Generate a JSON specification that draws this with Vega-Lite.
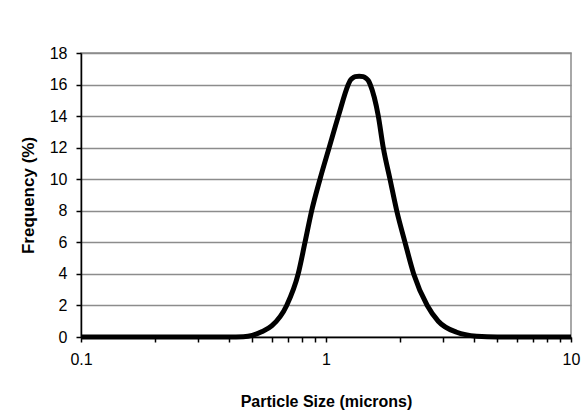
{
  "$schema": "https://vega.github.io/schema/vega-lite/v6.json",
  "width": 490,
  "height": 284,
  "autosize": {"type": "none"},
  "padding": {"left": 81, "top": 53, "right": 17, "bottom": 77},
  "background": "white",
  "config": {
    "font": "Liberation Sans",
    "view": {"stroke": "#8c8c8c", "strokeWidth": 1.5}
  },
  "data": {
    "values": [
      {"size": 0.1, "freq": 0},
      {"size": 0.2, "freq": 0},
      {"size": 0.3, "freq": 0},
      {"size": 0.4, "freq": 0},
      {"size": 0.46, "freq": 0.02},
      {"size": 0.5, "freq": 0.1},
      {"size": 0.546, "freq": 0.33},
      {"size": 0.6, "freq": 0.7},
      {"size": 0.691, "freq": 2},
      {"size": 0.77, "freq": 4},
      {"size": 0.821, "freq": 6},
      {"size": 0.874, "freq": 8},
      {"size": 0.945, "freq": 10},
      {"size": 1.03, "freq": 12},
      {"size": 1.123, "freq": 14},
      {"size": 1.233, "freq": 16},
      {"size": 1.255, "freq": 16.26},
      {"size": 1.279, "freq": 16.39},
      {"size": 1.316, "freq": 16.5},
      {"size": 1.366, "freq": 16.53},
      {"size": 1.418, "freq": 16.5},
      {"size": 1.459, "freq": 16.39},
      {"size": 1.487, "freq": 16.26},
      {"size": 1.515, "freq": 16},
      {"size": 1.635, "freq": 14},
      {"size": 1.713, "freq": 12},
      {"size": 1.825, "freq": 10},
      {"size": 1.944, "freq": 8},
      {"size": 2.101, "freq": 6},
      {"size": 2.28, "freq": 4},
      {"size": 2.59, "freq": 2},
      {"size": 2.873, "freq": 1},
      {"size": 3.415, "freq": 0.3},
      {"size": 4.12, "freq": 0.05},
      {"size": 5, "freq": 0},
      {"size": 10, "freq": 0}
    ]
  },
  "mark": {"type": "line", "color": "black", "strokeWidth": 5, "interpolate": "monotone", "clip": false},
  "encoding": {
    "x": {
      "field": "size",
      "type": "quantitative",
      "scale": {"type": "log", "domain": [0.1, 10], "nice": false},
      "axis": {
        "values": [0.1, 0.2, 0.3, 0.4, 0.5, 0.6, 0.7, 0.8, 0.9, 1, 2, 3, 4, 5, 6, 7, 8, 9, 10],
        "labelExpr": "datum.value == 0.1 ? '0.1' : datum.value == 1 ? '1' : datum.value == 10 ? '10' : ''",
        "labelFlush": false,
        "labelOverlap": false,
        "grid": false,
        "domainColor": "black",
        "domainWidth": 1.5,
        "tickColor": "black",
        "tickWidth": 1.5,
        "tickSize": 5,
        "labelFontSize": 16,
        "labelColor": "black",
        "labelPadding": 9,
        "title": "Particle Size (microns)",
        "titleFontSize": 16,
        "titleFontWeight": "bold",
        "titleColor": "black",
        "titleBaseline": "alphabetic",
        "titleY": 69
      }
    },
    "y": {
      "field": "freq",
      "type": "quantitative",
      "scale": {"domain": [0, 18], "nice": false},
      "axis": {
        "values": [0, 2, 4, 6, 8, 10, 12, 14, 16, 18],
        "grid": true,
        "gridColor": "#8c8c8c",
        "gridWidth": 1.5,
        "domainColor": "black",
        "domainWidth": 1.5,
        "tickColor": "black",
        "tickWidth": 1.5,
        "tickSize": 5,
        "labelFontSize": 16,
        "labelColor": "black",
        "labelPadding": 9,
        "title": "Frequency (%)",
        "titleFontSize": 17,
        "titleFontWeight": "bold",
        "titleColor": "black",
        "titleAngle": 270,
        "titleAlign": "center",
        "titleBaseline": "middle",
        "titleX": -53,
        "titleY": 142
      }
    }
  }
}
